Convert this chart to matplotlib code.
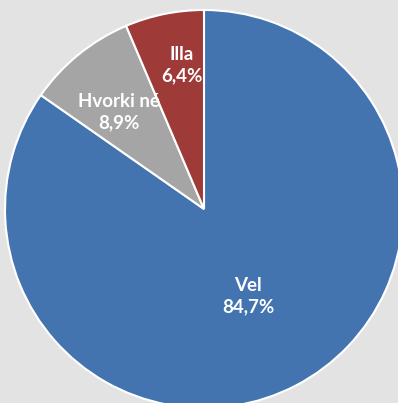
import matplotlib
matplotlib.use("Agg")
import matplotlib.pyplot as plt
import numpy as np

labels = ["Vel", "Hvorki né", "Illa"]
values = [84.7, 8.9, 6.4]
colors = ["#4374b0", "#a5a5a5", "#9e3a37"]
# label anchor points in pixel space
label_pos = [(248, 296), (119, 112), (182, 65)]

fig = plt.figure(figsize=(3.98, 4.03), dpi=100)
fig.patch.set_facecolor("#e3e3e3")
ax = fig.add_axes([0, 0, 1, 1])
ax.set_facecolor("#e3e3e3")

cx, cy, r = 204, 209, 199
ax.pie(values, colors=colors, startangle=90, counterclock=False,
       center=(cx, cy), radius=r, frame=True,
       wedgeprops=dict(edgecolor="white", linewidth=1.5))
ax.set_xlim(0, 398)
ax.set_ylim(403, 0)
ax.set_aspect("auto")
ax.axis("off")

# pie() is drawn with y pointing up; mirror wedges around the centre line
for p in ax.patches:
    t = matplotlib.transforms.Affine2D().translate(0, -cy).scale(1, -1).translate(0, cy)
    p.set_transform(t + ax.transData)

for name, v, (x, y) in zip(labels, values, label_pos):
    txt = f"{name}\n{v:.1f}%".replace(".", ",")
    ax.text(x, y, txt, ha="center", va="center", color="white",
            fontsize=13.5, fontweight="bold", family="Lato", linespacing=1.35)

fig.savefig("out.png", dpi=100, facecolor=fig.get_facecolor())
